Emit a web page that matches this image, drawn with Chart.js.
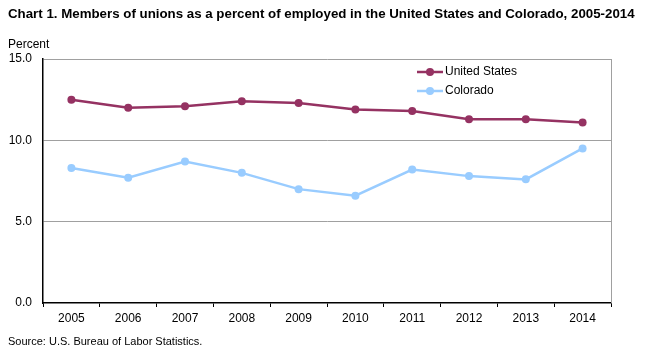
<!DOCTYPE html>
<html>
<head>
<meta charset="utf-8">
<script src="https://cdn.jsdelivr.net/npm/chart.js@4.4.1/dist/chart.umd.min.js"></script>
<style>
  html, body { margin: 0; padding: 0; background: #fff; }
  #wrap { position: relative; width: 650px; height: 353px; overflow: hidden; font-family: "Liberation Sans", Arial, sans-serif; }
  #c { position: absolute; left: 0; top: 0; }
  .t { position: absolute; white-space: nowrap; color: #000; }
  #title { left: 8px; top: 6px; font-size: 13.3px; font-weight: bold; }
  #ylab { left: 8px; top: 37px; font-size: 12px; }
  #src { left: 8px; top: 335px; font-size: 11px; }
</style>
</head>
<body>
<div id="wrap">
  <canvas id="c" width="650" height="353"></canvas>
  <div class="t" id="title">Chart 1. Members of unions as a percent of employed in the United States and Colorado, 2005-2014</div>
  <div class="t" id="ylab">Percent</div>
  <div class="t" id="src">Source: U.S. Bureau of Labor Statistics.</div>
</div>
<script>
const years = ["2005","2006","2007","2008","2009","2010","2011","2012","2013","2014"];
const unitedStates = [12.5, 12.0, 12.1, 12.4, 12.3, 11.9, 11.8, 11.3, 11.3, 11.1];
const colorado = [8.3, 7.7, 8.7, 8.0, 7.0, 6.6, 8.2, 7.8, 7.6, 9.5];
const seriesNames = ["United States", "Colorado"];
const seriesColors = ["#953262", "#99CCFF"];

const FONT = '"Liberation Sans", Arial, sans-serif';

const legendPlugin = {
  id: 'customLegend',
  afterDraw(chart) {
    const ctx = chart.ctx;
    const ca = chart.chartArea;
    ctx.save();
    chart.data.datasets.forEach((ds, i) => {
      const y = ca.top + 13 + i * 19;
      const x0 = ca.right - 194;
      ctx.strokeStyle = ds.borderColor;
      ctx.lineWidth = 2.5;
      ctx.beginPath();
      ctx.moveTo(x0, y);
      ctx.lineTo(x0 + 26, y);
      ctx.stroke();
      ctx.fillStyle = ds.borderColor;
      ctx.beginPath();
      ctx.arc(x0 + 13, y, 4, 0, Math.PI * 2);
      ctx.fill();
      ctx.fillStyle = '#000';
      ctx.font = '12px ' + FONT;
      ctx.textBaseline = 'middle';
      ctx.textAlign = 'left';
      ctx.fillText(ds.label, x0 + 28, y);
    });
    ctx.strokeStyle = '#a0a0a0';
    ctx.lineWidth = 1;
    ctx.beginPath();
    ctx.moveTo(Math.round(ca.right) + 0.5, ca.top);
    ctx.lineTo(Math.round(ca.right) + 0.5, ca.bottom);
    ctx.stroke();
    ctx.restore();
  }
};

new Chart(document.getElementById('c'), {
  type: 'line',
  data: {
    labels: years,
    datasets: [
      { label: seriesNames[0], data: unitedStates, borderColor: seriesColors[0], backgroundColor: seriesColors[0],
        borderWidth: 2.5, pointRadius: 4, pointBorderWidth: 0, tension: 0, pointHoverRadius: 4 },
      { label: seriesNames[1], data: colorado, borderColor: seriesColors[1], backgroundColor: seriesColors[1],
        borderWidth: 2.5, pointRadius: 4, pointBorderWidth: 0, tension: 0, pointHoverRadius: 4 }
    ]
  },
  options: {
    responsive: false,
    animation: false,
    events: [],
    layout: { padding: { left: 0, right: 39, top: 59, bottom: 15 } },
    plugins: { legend: { display: false }, tooltip: { enabled: false } },
    scales: {
      x: {
        offset: true,
        grid: { offset: true, drawOnChartArea: false, drawTicks: true, tickLength: 4, color: '#000', lineWidth: 1 },
        border: { display: true, color: '#000', width: 1.5 },
        ticks: { color: '#000', font: { family: FONT, size: 12 }, padding: 4, maxRotation: 0 },
        afterFit(s) { s.height = 35; }
      },
      y: {
        min: 0, max: 15,
        ticks: { stepSize: 5, color: '#000', font: { family: FONT, size: 12 }, padding: 11,
                 callback: v => v.toFixed(1) },
        grid: { drawTicks: false, color: ctx => ctx.tick && ctx.tick.value === 0 ? 'rgba(0,0,0,0)' : '#a0a0a0', lineWidth: 1 },
        border: { display: true, color: '#000', width: 1.5 },
        afterFit(s) { s.width = 43; }
      }
    }
  },
  plugins: [legendPlugin]
});
</script>
</body>
</html>
